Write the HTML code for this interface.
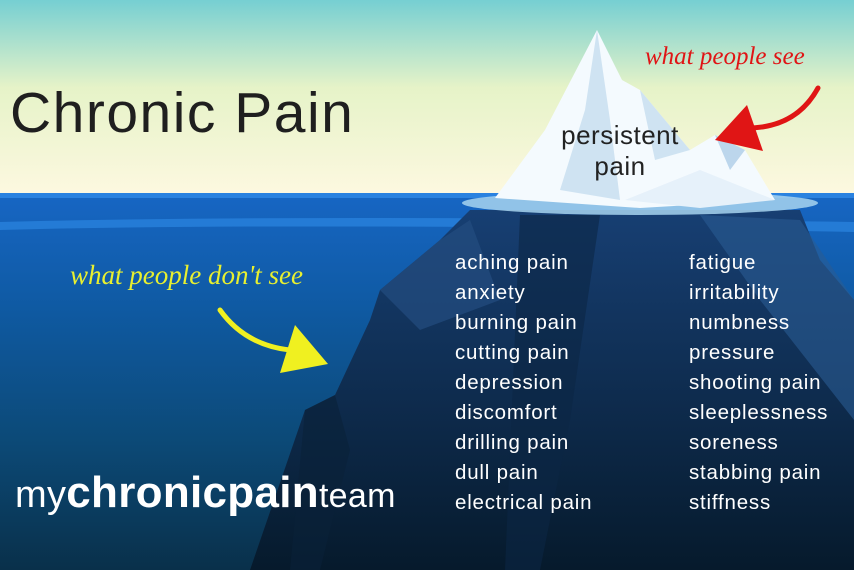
<!DOCTYPE html>
<html><head><meta charset="utf-8"><style>
html,body{margin:0;padding:0}
body{width:854px;height:570px;overflow:hidden;position:relative;font-family:"Liberation Sans","DejaVu Sans",sans-serif}
.t{position:absolute;white-space:nowrap}
.l{font-size:20.5px;color:#fff;line-height:30px;letter-spacing:0.8px}
</style></head><body>
<svg width="854" height="570" style="position:absolute;left:0;top:0">
<defs>
<linearGradient id="sky" x1="0" y1="0" x2="0" y2="1">
<stop offset="0" stop-color="#76cfd2"/><stop offset="0.45" stop-color="#e6f3c8"/><stop offset="1" stop-color="#fdf8e0"/></linearGradient>
<linearGradient id="sea" x1="0" y1="0" x2="0" y2="1">
<stop offset="0" stop-color="#1766c4"/><stop offset="0.3" stop-color="#0f5aa3"/><stop offset="0.65" stop-color="#0c4a78"/><stop offset="1" stop-color="#09304a"/></linearGradient>
<linearGradient id="berg" x1="0" y1="0" x2="0" y2="1">
<stop offset="0" stop-color="#173f73"/><stop offset="1" stop-color="#061a2c"/></linearGradient>
</defs>
<rect width="854" height="195" fill="url(#sky)"/>
<rect y="193" width="854" height="377" fill="url(#sea)"/>
<rect y="193" width="854" height="5" fill="#2a82e0"/>
<path d="M0 222 Q300 214 854 222 L854 232 Q300 222 0 230Z" fill="#2e8ce8" opacity="0.6"/>
<polygon points="470,210 800,210 820,260 854,300 854,570 250,570 305,410 335,395 370,320 380,290 440,240" fill="url(#berg)"/>
<polygon points="380,290 440,240 470,220 500,300 420,330" fill="#244d80" opacity="0.7"/>
<polygon points="520,215 600,215 570,420 540,570 505,570" fill="#0b2745" opacity="0.6"/>
<polygon points="700,215 800,220 854,300 854,420 760,300" fill="#2a5c93" opacity="0.6"/>
<polygon points="305,410 335,395 350,450 320,570 290,570" fill="#0a2238" opacity="0.6"/>
<ellipse cx="640" cy="203" rx="178" ry="12" fill="#a7d3ef" opacity="0.85"/>
<polygon points="495,198 545,130 597,30 622,80 640,90 690,150 715,135 745,150 775,200 640,208" fill="#f4fafe"/>
<polygon points="597,30 585,110 560,190 620,200 610,120" fill="#cfe3f2"/>
<polygon points="640,90 655,160 690,150" fill="#cfe3f2"/>
<polygon points="715,135 730,170 745,150" fill="#bcd6ec"/>
<polygon points="625,200 700,170 775,200 700,208" fill="#e6f1fa"/>
<path d="M818 88 Q795 130 742 128" stroke="#e01515" stroke-width="5" fill="none" stroke-linecap="round"/>
<polygon points="715,140 747,105 763,151" fill="#e01515"/>
<path d="M220 310 Q245 345 290 350" stroke="#f0f020" stroke-width="5" fill="none" stroke-linecap="round"/>
<polygon points="328,364 295,325 280,373" fill="#f0f020"/>
</svg>
<div class="t" style="left:10px;top:80px;font-size:57px;color:#1f1f1f;letter-spacing:1.5px">Chronic Pain</div>
<div class="t" style="left:540px;top:120px;font-size:26px;color:#222;text-align:center;width:160px;line-height:31px;letter-spacing:0.5px">persistent<br>pain</div>
<div class="t" style="left:645px;top:43px;font-size:25px;color:#e01515;font-family:'Liberation Serif',serif;font-style:italic">what people see</div>
<div class="t" style="left:70px;top:260px;font-size:27px;color:#e8f030;font-family:'Liberation Serif',serif;font-style:italic">what people don't see</div>
<div class="t" style="left:15px;top:468px;color:#fff;font-size:44px;letter-spacing:0.3px"><span style="font-size:38px">my</span><b>chronicpain</b><span style="font-size:34px">team</span></div>
<div class="t l" style="left:455px;top:248px">aching pain<br>anxiety<br>burning pain<br>cutting pain<br>depression<br>discomfort<br>drilling pain<br>dull pain<br>electrical pain</div>
<div class="t l" style="left:689px;top:248px">fatigue<br>irritability<br>numbness<br>pressure<br>shooting pain<br>sleeplessness<br>soreness<br>stabbing pain<br>stiffness</div>
</body></html>
